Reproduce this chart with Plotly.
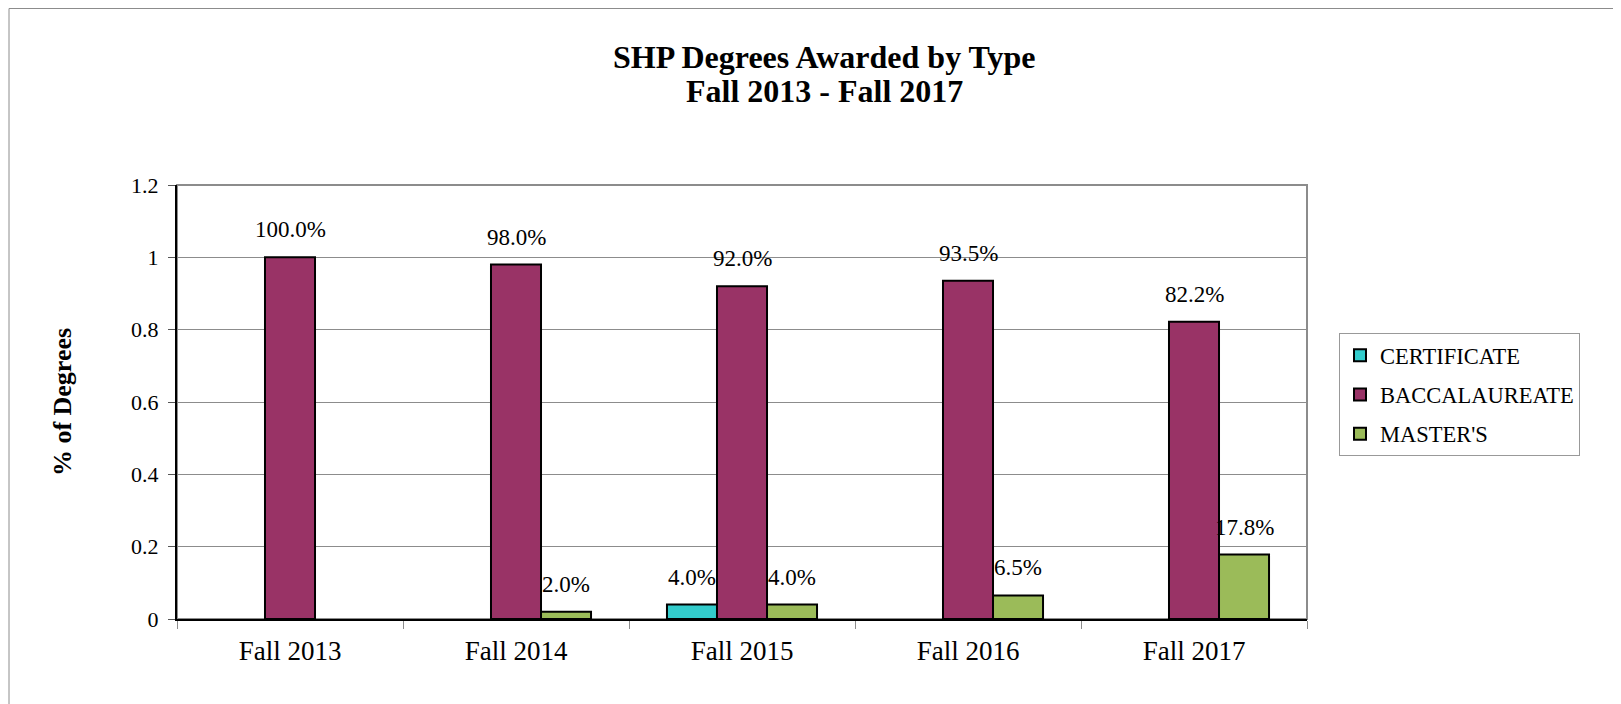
import plotly.graph_objects as go

categories = ["Fall 2013", "Fall 2014", "Fall 2015", "Fall 2016", "Fall 2017"]
series_names = ["CERTIFICATE", "BACCALAUREATE", "MASTER'S"]
certificate = [None, None, 0.04, None, None]
baccalaureate = [1.0, 0.98, 0.92, 0.935, 0.822]
masters = [None, 0.02, 0.04, 0.065, 0.178]
y_ticks = [0, 0.2, 0.4, 0.6, 0.8, 1.0, 1.2]
title_lines = ["SHP Degrees Awarded by Type", "Fall 2013 - Fall 2017"]

colors = ["#33CCCC", "#993366", "#9BBB59"]
series = [certificate, baccalaureate, masters]

W, H = 1621, 704
OFF = 8  # page body margin
L, R, T, B = 177 - OFF, 1307 - OFF, 185 - OFF, 619 - OFF
FONT = "Liberation Serif, Times New Roman, serif"
BARGAP = 0.336

fig = go.Figure()
for i, (name, vals, col) in enumerate(zip(series_names, series, colors)):
    fig.add_trace(go.Bar(
        x=categories, y=vals, name=name, legendgroup=name,
        marker=dict(color=col, line=dict(color="black", width=2)),
    ))

pw, ph = R - L, B - T
def px_x(p):
    return (p - OFF - L) / pw
def px_y(p):
    return (B - (p - OFF)) / ph

# data labels
n = len(series)
bw = (1 - BARGAP) / n
annotations = []
for i, vals in enumerate(series):
    off = (i - (n - 1) / 2) * bw
    for j, v in enumerate(vals):
        if v is None:
            continue
        annotations.append(dict(
            x=j + off, y=v, xref="x", yref="y", text=f"{v:.1%}",
            showarrow=False, yanchor="bottom", xanchor="center", yshift=13,
            font=dict(family=FONT, size=23, color="black"),
        ))

# title lines
for txt, yc in zip(title_lines, [57, 91]):
    annotations.append(dict(
        x=px_x(824), xref="paper", y=px_y(yc), yref="paper",
        text=f"<b>{txt}</b>", showarrow=False,
        xanchor="center", yanchor="middle",
        font=dict(family=FONT, size=32, color="black"),
    ))

shapes = [
    # outer chart frame
    dict(type="rect", xref="paper", yref="paper",
         x0=px_x(9), x1=px_x(W + 40), y0=px_y(H + 40), y1=(B - 0.5) / ph,
         line=dict(color="#8c8c8c", width=1), fillcolor="rgba(0,0,0,0)", layer="below"),
    # plot area border (top/right gray)
    dict(type="rect", xref="paper", yref="paper", x0=0, x1=1, y0=0, y1=1,
         line=dict(color="#8c8c8c", width=2), fillcolor="rgba(0,0,0,0)", layer="below"),
]

fig.update_layout(
    width=W, height=H,
    margin=dict(l=L, r=W - R, t=T, b=H - B, pad=0),
    paper_bgcolor="white", plot_bgcolor="white",
    barmode="group", bargap=BARGAP, bargroupgap=0,
    font=dict(family=FONT, color="black"),
    legend=dict(
        x=px_x(1339), y=px_y(333), xanchor="left", yanchor="top",
        bordercolor="#999999", borderwidth=1, bgcolor="white",
        font=dict(family=FONT, size=22.5, color="black"),
        tracegroupgap=7, traceorder="grouped",
    ),
    annotations=annotations,
    shapes=shapes,
)

fig.update_xaxes(
    type="category", showgrid=False,
    showline=True, linecolor="black", linewidth=2,
    ticks="outside", tickson="boundaries", ticklen=8, tickcolor="#8c8c8c", tickwidth=1,
    tickfont=dict(family=FONT, size=27, color="black"),
    ticklabelstandoff=7,
)
fig.update_yaxes(
    range=[0, 1.2], tickvals=y_ticks, ticktext=[f"{v:g}" for v in y_ticks],
    showgrid=True, gridcolor="#8c8c8c", gridwidth=1,
    showline=True, linecolor="black", linewidth=2, zeroline=False,
    ticks="outside", ticklen=7, tickcolor="#555555", tickwidth=1,
    tickfont=dict(family=FONT, size=22, color="black"),
    ticklabelstandoff=5,
    title=dict(text="<b>% of Degrees</b>", standoff=52,
               font=dict(family=FONT, size=26, color="black")),
)

fig.write_html("out.html")
